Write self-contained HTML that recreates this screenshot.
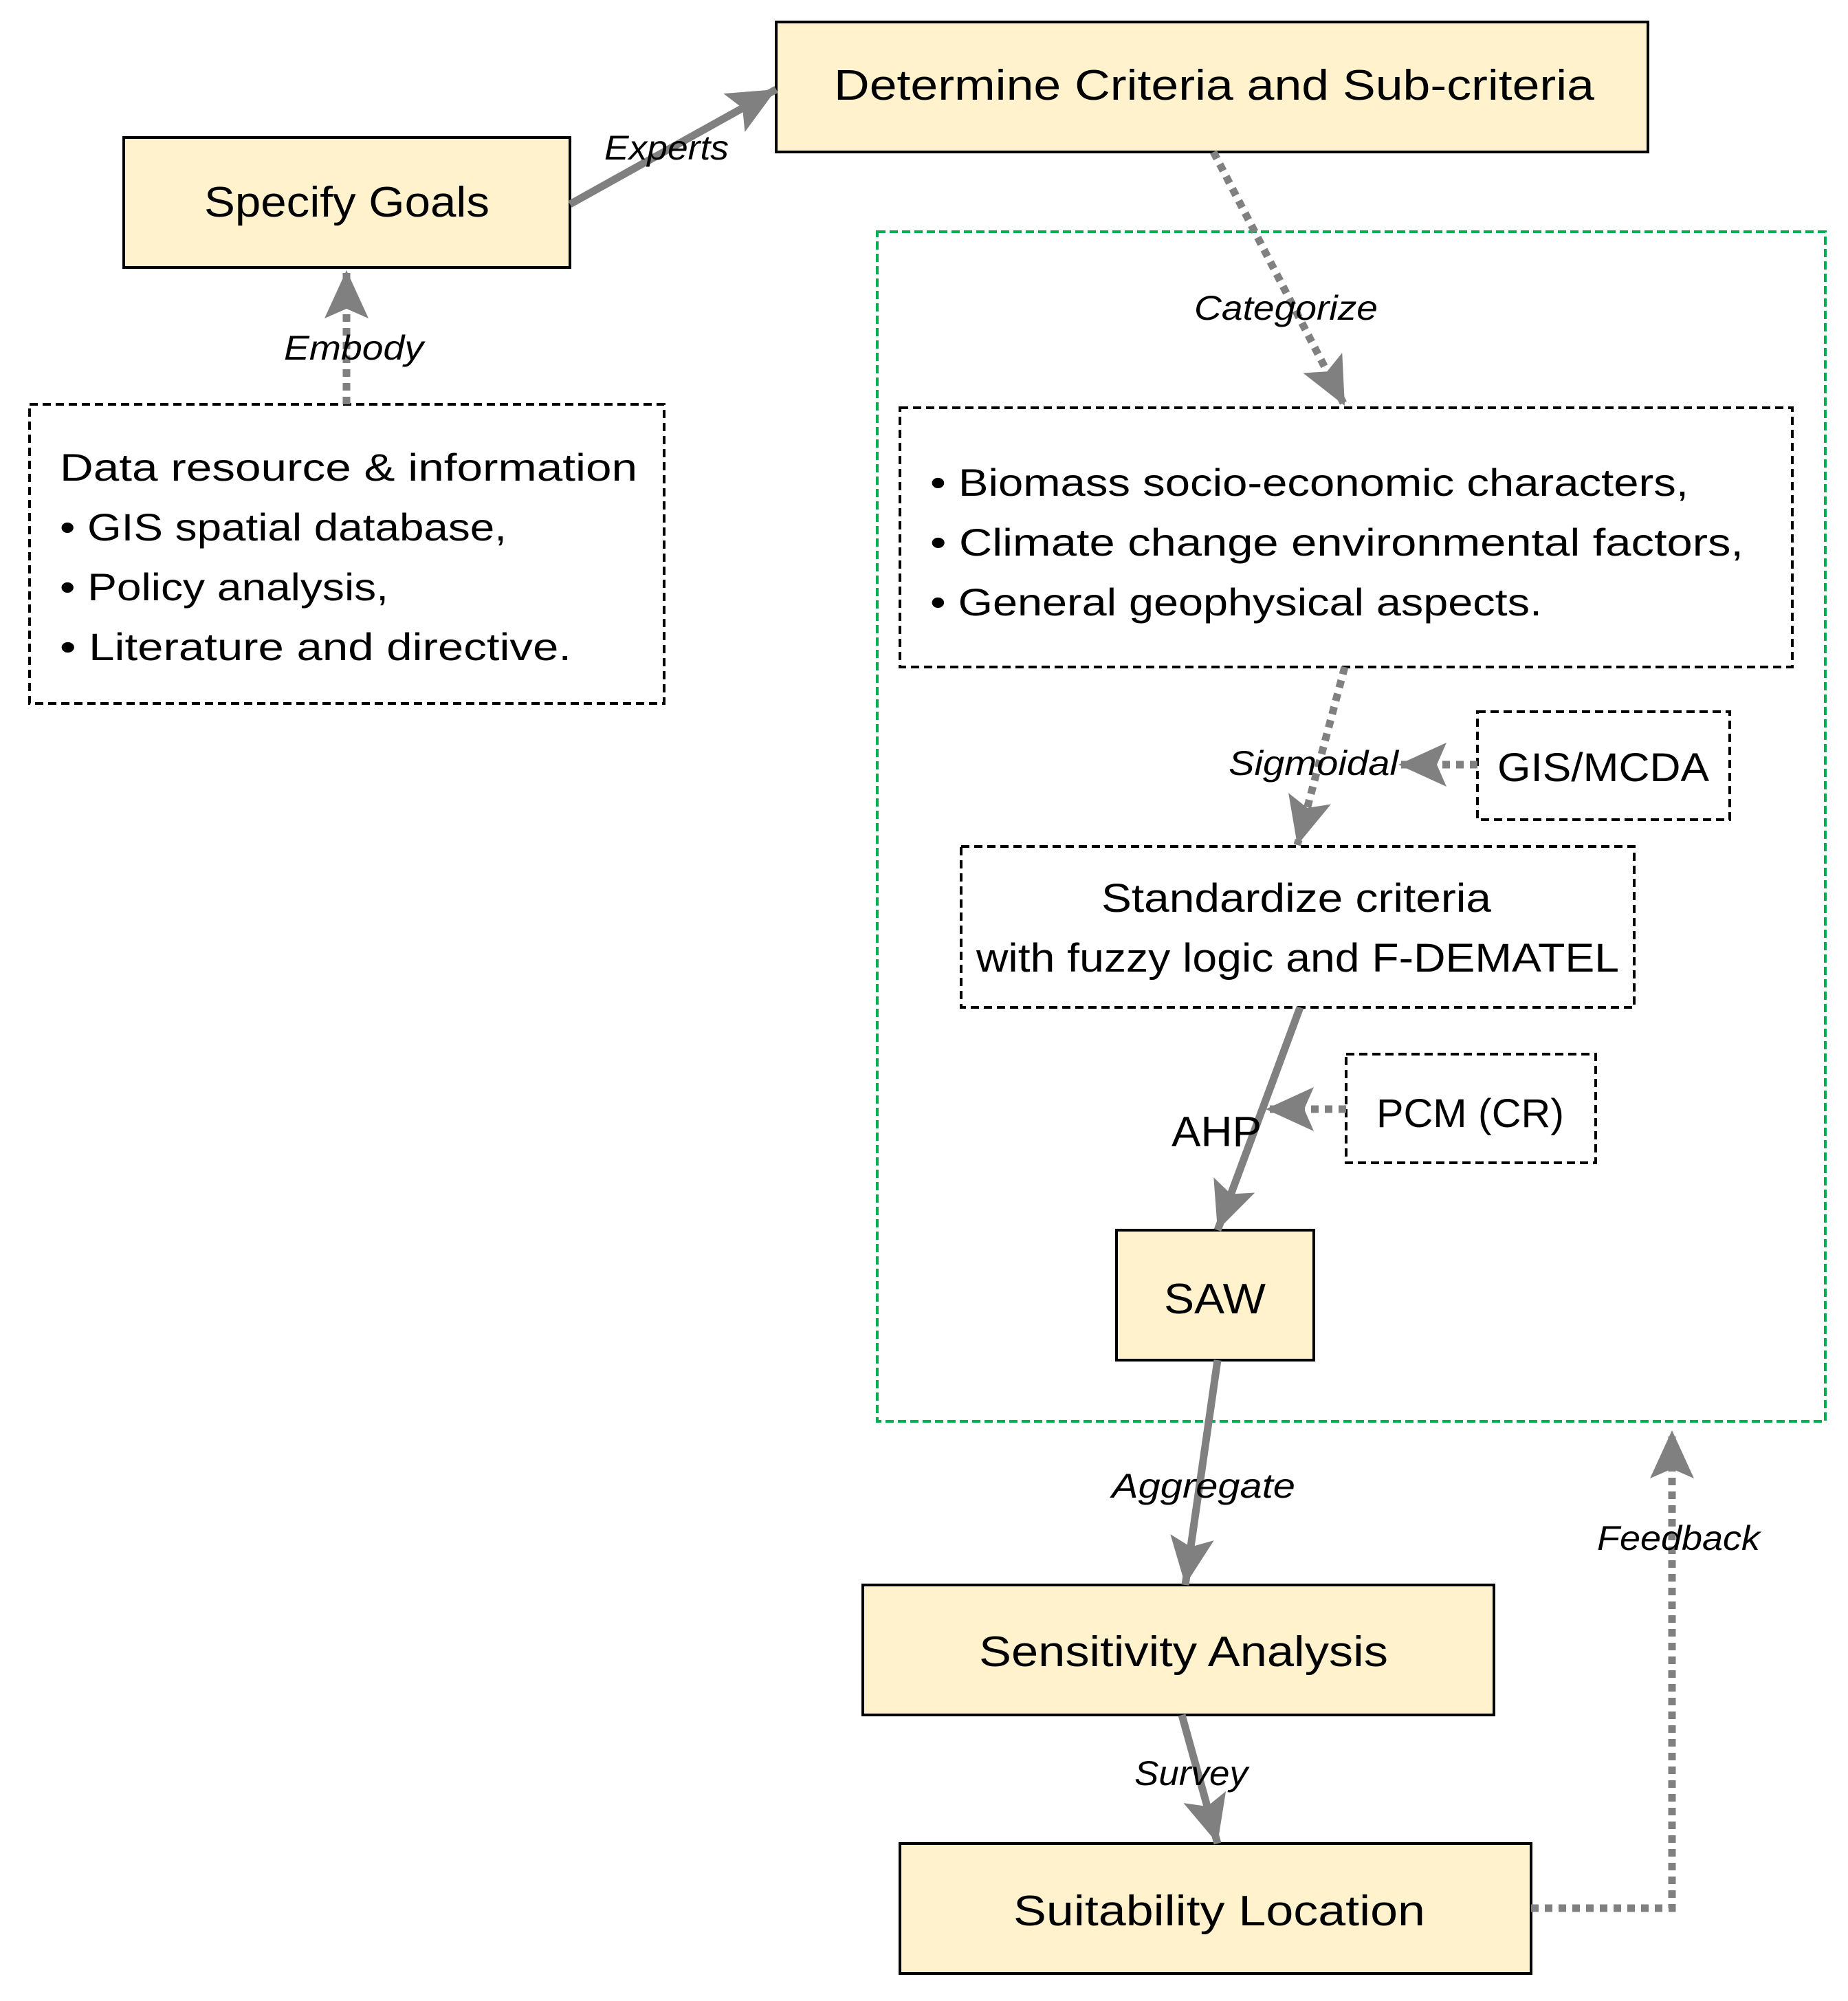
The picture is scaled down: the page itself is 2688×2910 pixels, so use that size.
<!DOCTYPE html>
<html><head><meta charset="utf-8"><style>html,body{margin:0;padding:0;background:#fff}svg{display:block}</style></head>
<body>
<svg width="2688" height="2910" viewBox="0 0 2688 2910" xmlns="http://www.w3.org/2000/svg" font-family="Liberation Sans, sans-serif">
<defs>
<marker id="ah" markerUnits="userSpaceOnUse" markerWidth="80" markerHeight="70" refX="70" refY="32" orient="auto">
<path d="M0,0 L70,32 L0,64 L14,32 Z" fill="#808080"/>
</marker>
</defs>
<!-- green dashed container -->
<rect x="1276" y="337" width="1379" height="1730" fill="none" stroke="#00b050" stroke-width="4" stroke-dasharray="12,6"/>
<!-- boxes -->
<g stroke="#000" stroke-width="4">
<rect x="1129" y="32" width="1268" height="189" fill="#fff2cc"/>
<rect x="180" y="200" width="649" height="189" fill="#fff2cc"/>
<rect x="1624" y="1789" width="287" height="189" fill="#fff2cc"/>
<rect x="1255" y="2305" width="918" height="189" fill="#fff2cc"/>
<rect x="1309" y="2681" width="918" height="189" fill="#fff2cc"/>
</g>
<g stroke="#000" stroke-width="4" fill="#fff" stroke-dasharray="12,7">
<rect x="43" y="588" width="923" height="435"/>
<rect x="1309" y="593" width="1298" height="377"/>
<rect x="2149" y="1035" width="367" height="157"/>
<rect x="1398" y="1231" width="979" height="234"/>
<rect x="1958" y="1533" width="363" height="158"/>
</g>
<!-- connectors -->
<g stroke="#808080" fill="none" stroke-width="11">
<line x1="829" y1="297" x2="1129" y2="130" marker-end="url(#ah)"/>
<line x1="1891" y1="1465" x2="1771" y2="1789" marker-end="url(#ah)"/>
<line x1="1771" y1="1978" x2="1724" y2="2305" marker-end="url(#ah)"/>
<line x1="1719" y1="2494" x2="1771" y2="2681" marker-end="url(#ah)"/>
</g>
<g stroke="#808080" fill="none" stroke-width="11" stroke-dasharray="11,9">
<line x1="504" y1="588" x2="504" y2="393" marker-end="url(#ah)"/>
<line x1="1765" y1="221" x2="1956" y2="590" marker-end="url(#ah)"/>
<line x1="1956" y1="970" x2="1887" y2="1229" marker-end="url(#ah)"/>
<line x1="2149" y1="1112" x2="2034" y2="1112" marker-end="url(#ah)"/>
<line x1="1958" y1="1613" x2="1841" y2="1613" marker-end="url(#ah)"/>
<polyline points="2227,2775 2432,2775 2432,2080" marker-end="url(#ah)"/>
</g>
<!-- box text -->
<g fill="#000" font-size="62">
<text x="1213" y="145" textLength="1106" lengthAdjust="spacingAndGlyphs">Determine Criteria and Sub-criteria</text>
<text x="297" y="315" textLength="415" lengthAdjust="spacingAndGlyphs">Specify Goals</text>
<g font-size="56">
<text x="87" y="699" textLength="840" lengthAdjust="spacingAndGlyphs">Data resource &amp; information</text>
<text x="87" y="786" textLength="650" lengthAdjust="spacingAndGlyphs">• GIS spatial database,</text>
<text x="87" y="873" textLength="478" lengthAdjust="spacingAndGlyphs">• Policy analysis,</text>
<text x="87" y="960" textLength="744" lengthAdjust="spacingAndGlyphs">• Literature and directive.</text>
<text x="1353" y="721" textLength="1103" lengthAdjust="spacingAndGlyphs">• Biomass socio-economic characters,</text>
<text x="1353" y="808" textLength="1183" lengthAdjust="spacingAndGlyphs">• Climate change environmental factors,</text>
<text x="1353" y="895" textLength="890" lengthAdjust="spacingAndGlyphs">• General geophysical aspects.</text>
</g>
<text x="2178" y="1136" textLength="308" lengthAdjust="spacingAndGlyphs" font-size="58">GIS/MCDA</text>
<text x="1602" y="1326" textLength="567" lengthAdjust="spacingAndGlyphs" font-size="58">Standardize criteria</text>
<text x="1420" y="1413" textLength="935" lengthAdjust="spacingAndGlyphs" font-size="58">with fuzzy logic and F-DEMATEL</text>
<text x="2002" y="1639" textLength="273" lengthAdjust="spacingAndGlyphs" font-size="58">PCM (CR)</text>
<text x="1693" y="1910" textLength="148" lengthAdjust="spacingAndGlyphs" font-size="62">SAW</text>
<text x="1424" y="2423" textLength="595" lengthAdjust="spacingAndGlyphs" font-size="62">Sensitivity Analysis</text>
<text x="1474" y="2800" textLength="599" lengthAdjust="spacingAndGlyphs" font-size="62">Suitability Location</text>
<text x="1704" y="1667" textLength="131" lengthAdjust="spacingAndGlyphs" font-size="62">AHP</text>
</g>
<!-- italic labels -->
<g fill="#000" font-size="50" font-style="italic">
<text x="879" y="232" textLength="181" lengthAdjust="spacingAndGlyphs">Experts</text>
<text x="413" y="523" textLength="203" lengthAdjust="spacingAndGlyphs">Embody</text>
<text x="1737" y="465" textLength="267" lengthAdjust="spacingAndGlyphs">Categorize</text>
<text x="1787" y="1127" textLength="247" lengthAdjust="spacingAndGlyphs">Sigmoidal</text>
<text x="1617" y="2178" textLength="267" lengthAdjust="spacingAndGlyphs">Aggregate</text>
<text x="2323" y="2254" textLength="237" lengthAdjust="spacingAndGlyphs">Feedback</text>
<text x="1650" y="2596" textLength="165" lengthAdjust="spacingAndGlyphs">Survey</text>
</g>
</svg>
</body></html>
